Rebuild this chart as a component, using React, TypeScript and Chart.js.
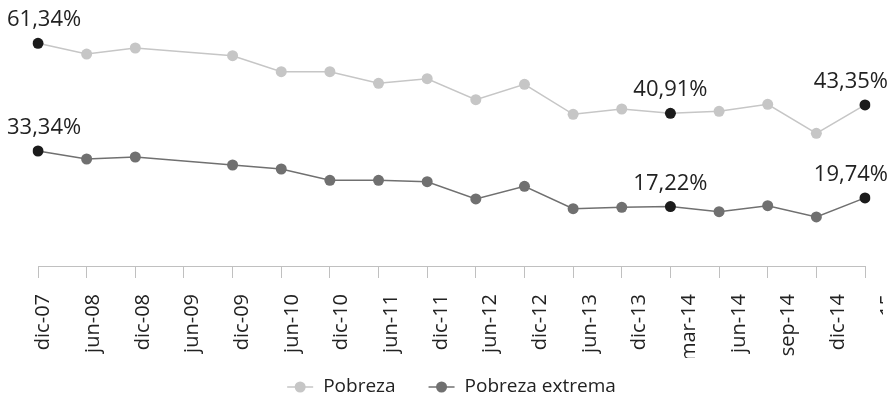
import React, { useEffect, useRef } from 'react';
import { Chart, registerables } from 'chart.js';

Chart.register(...registerables);

const FONT = "'Open Sans', 'Noto Sans', sans-serif";

const categories = [
  'dic-07', 'jun-08', 'dic-08', 'jun-09', 'dic-09', 'jun-10', 'dic-10', 'jun-11', 'dic-11',
  'jun-12', 'dic-12', 'jun-13', 'dic-13', 'mar-14', 'jun-14', 'sep-14', 'dic-14', 'mar-15',
];
const pobreza = [61.34, 58.21, 59.97, null, 57.72, 53.05, 53.05, 49.66, 51.01, 44.88, 49.37, 40.61, 42.16, 40.91, 41.49, 43.53, 35.07, 43.35];
const pobrezaExtrema = [33.34, 31.02, 31.6, null, 29.28, 28.12, 24.85, 24.85, 24.44, 19.43, 23.11, 16.62, 17.02, 17.22, 15.75, 17.48, 14.21, 19.74];
const labeledCategories = ['dic-07', 'mar-14', 'mar-15'];
const seriesNames = ['Pobreza', 'Pobreza extrema'];

const COLOR_POBREZA = '#c6c6c6';
const COLOR_EXTREMA = '#707070';
const COLOR_HIGHLIGHT = '#1b1b1b';
const TEXT_COLOR = '#222222';
const AXIS_COLOR = '#c0c0c0';

const isLabeled = (i: number) => labeledCategories.includes(categories[i]);

const valueLabelPlugin = {
  id: 'valueLabels',
  afterDatasetsDraw(chart: any) {
    const ctx = chart.ctx;
    ctx.save();
    ctx.font = `22px ${FONT}`;
    ctx.fillStyle = TEXT_COLOR;
    ctx.textAlign = 'center';
    ctx.textBaseline = 'alphabetic';
    chart.data.datasets.forEach((ds: any, di: number) => {
      const meta = chart.getDatasetMeta(di);
      meta.data.forEach((pt: any, i: number) => {
        if (!isLabeled(i)) return;
        const v = ds.data[i];
        if (v == null) return;
        const text = v.toFixed(2).replace('.', ',') + '%';
        const w = ctx.measureText(text).width;
        const x = Math.min(Math.max(pt.x, w / 2 + 7), chart.width - w / 2 - 5);
        ctx.fillText(text, x, pt.y - 17);
      });
    });
    ctx.restore();
  },
};

const lineLegendPlugin = {
  id: 'lineLegend',
  afterDraw(chart: any) {
    const ctx = chart.ctx;
    ctx.save();
    ctx.font = `19px ${FONT}`;
    const icon = 26;
    const gap = 10;
    const spacing = 33;
    const items = chart.data.datasets.map((ds: any) => ({
      text: ds.label,
      color: ds.borderColor,
      w: ctx.measureText(ds.label).width,
    }));
    const total = items.reduce((s: number, it: any) => s + icon + gap + it.w, 0) + spacing * (items.length - 1);
    let x = (chart.chartArea.left + chart.chartArea.right) / 2 - total / 2;
    const y = chart.height - 14;
    items.forEach((it: any) => {
      ctx.strokeStyle = it.color;
      ctx.lineWidth = 1.5;
      ctx.beginPath();
      ctx.moveTo(x, y);
      ctx.lineTo(x + icon, y);
      ctx.stroke();
      ctx.fillStyle = it.color;
      ctx.beginPath();
      ctx.arc(x + icon / 2, y, 5.5, 0, Math.PI * 2);
      ctx.fill();
      x += icon + gap;
      ctx.fillStyle = TEXT_COLOR;
      ctx.textAlign = 'left';
      ctx.textBaseline = 'middle';
      ctx.fillText(it.text, x, y);
      x += it.w + spacing;
    });
    ctx.restore();
  },
};

export default function App() {
  const ref = useRef<HTMLCanvasElement | null>(null);

  useEffect(() => {
    if (!ref.current) return;
    const pointColor = (base: string) => (c: any) => (isLabeled(c.dataIndex) ? COLOR_HIGHLIGHT : base);
    const chart = new Chart(ref.current, {
      type: 'line',
      data: {
        labels: categories,
        datasets: [
          {
            label: seriesNames[0],
            data: pobreza,
            yAxisID: 'y',
            borderColor: COLOR_POBREZA,
            backgroundColor: COLOR_POBREZA,
            borderWidth: 1.5,
            pointRadius: 5.5,
            pointBorderWidth: 0,
            pointBackgroundColor: pointColor(COLOR_POBREZA),
            pointHoverRadius: 5.5,
            tension: 0,
            spanGaps: true,
          },
          {
            label: seriesNames[1],
            data: pobrezaExtrema,
            yAxisID: 'y1',
            borderColor: COLOR_EXTREMA,
            backgroundColor: COLOR_EXTREMA,
            borderWidth: 1.5,
            pointRadius: 5.5,
            pointBorderWidth: 0,
            pointBackgroundColor: pointColor(COLOR_EXTREMA),
            pointHoverRadius: 5.5,
            tension: 0,
            spanGaps: true,
          },
        ],
      },
      options: {
        animation: false,
        responsive: false,
        layout: { padding: { left: 38, right: 28, top: 14, bottom: 43 } },
        plugins: {
          legend: { display: false },
          tooltip: { enabled: false },
        },
        scales: {
          x: {
            type: 'category',
            position: 'bottom',
            weight: 0,
            offset: false,
            grid: { drawOnChartArea: false, drawTicks: true, tickLength: 12, color: AXIS_COLOR, lineWidth: 1 },
            border: { display: true, color: AXIS_COLOR, width: 1 },
            ticks: { display: false, autoSkip: false },
            afterFit: (s: any) => {
              s.height = 12;
              s.paddingLeft = 0;
              s.paddingRight = 0;
            },
          },
          x2: {
            type: 'linear',
            position: 'bottom',
            weight: 1,
            bounds: 'data',
            min: -0.1107,
            max: 16.536,
            grid: { display: false },
            border: { display: false },
            afterBuildTicks: (s: any) => {
              s.ticks = categories.map((_, i) => ({ value: i }));
            },
            afterFit: (s: any) => {
              s.height = 80;
              s.paddingLeft = 0;
              s.paddingRight = 0;
              if (!s.__clipped) {
                s.__clipped = true;
                const baseDraw = Object.getPrototypeOf(s).draw;
                s.draw = function (area: any) {
                  const c = this.ctx;
                  c.save();
                  c.beginPath();
                  c.rect(0, this.top, 883, this.height);
                  c.clip();
                  baseDraw.call(this, area);
                  c.restore();
                };
              }
            },
            ticks: {
              autoSkip: false,
              minRotation: 90,
              maxRotation: 90,
              padding: 8,
              color: TEXT_COLOR,
              font: { family: FONT, size: 20 },
              callback: (v: any) => categories[v] ?? '',
            },
          },
          y: {
            display: false,
            min: -3.66,
            max: 69.89,
          },
          y1: {
            display: false,
            min: 0,
            max: 73.05,
          },
        },
      },
      plugins: [valueLabelPlugin, lineLegendPlugin],
    } as any);
    const fonts: any = (document as any).fonts;
    if (fonts && fonts.load) {
      Promise.all([fonts.load(`20px ${FONT}`), fonts.load(`22px ${FONT}`)]).then(() => chart.update()).catch(() => {});
    }
    return () => chart.destroy();
  }, []);

  return (
    <div style={{ position: 'fixed', left: 0, top: 0, width: 893, height: 401, background: '#fff' }}>
      <canvas ref={ref} width={893} height={401} />
    </div>
  );
}
